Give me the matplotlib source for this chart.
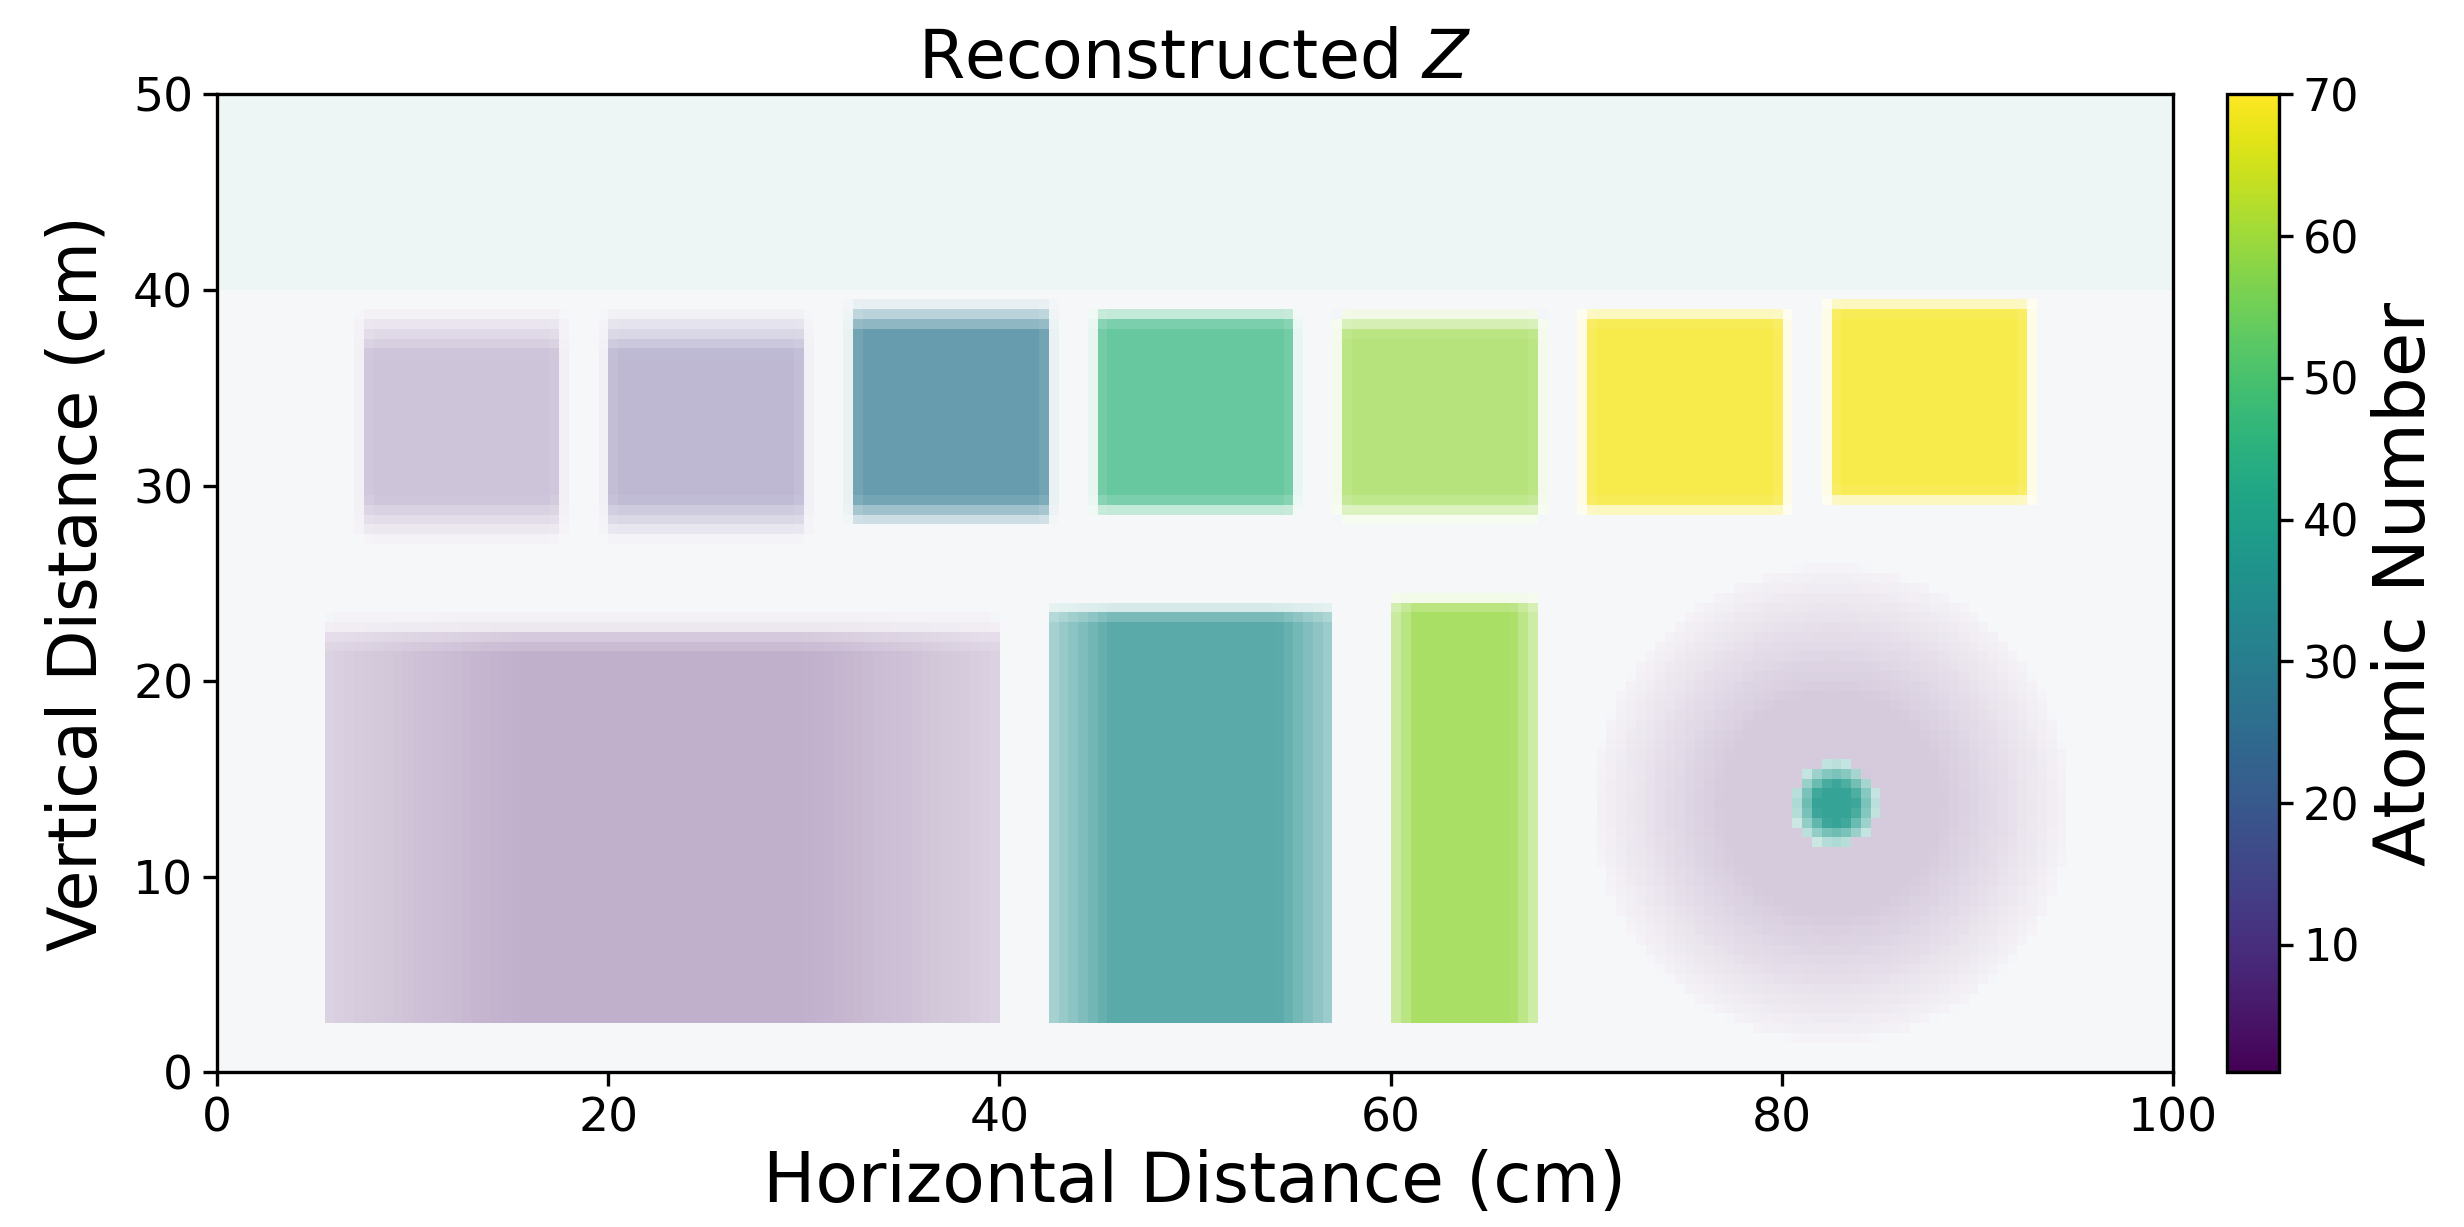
import numpy as np
import matplotlib
matplotlib.use('Agg')
import matplotlib.pyplot as plt
from matplotlib.colors import Normalize

# background / band
bg_z, bg_alpha = 22, 0.05
band_y0, band_y1, band_z, band_alpha = 40.0, 50.0, 35, 0.08

# top row of small squares
sq_x0 = [7.5, 20.0, 32.5, 45.0, 57.5, 70.0, 82.5]
sq_x1 = [17.5, 30.0, 42.5, 55.0, 67.5, 80.0, 92.5]
sq_y0 = [28.3, 28.3, 28.6, 28.9, 28.8, 28.9, 29.4]
sq_y1 = [37.8, 37.8, 38.6, 38.6, 38.3, 38.6, 39.1]
sq_z = [8, 12, 28, 46, 59, 69, 69]
sq_alpha = [0.27, 0.35, 0.72, 0.73, 0.68, 0.80, 0.80]
sq_blur_y = [2.2, 2.2, 1.6, 1.0, 1.2, 0.8, 0.8]

# bottom row rectangles
rect_x0 = [5.5, 42.7, 60.0]
rect_x1 = [40.0, 57.2, 67.4]
rect_y0 = [2.5, 2.5, 2.5]
rect_y1 = [22.4, 23.6, 24.0]
rect_z = [5, 35, 59]
rect_alpha = [0.34, 0.75, 0.80]
rect_blur_x = [20.0, 6.0, 2.5]
rect_blur_y = [2.0, 1.2, 0.8]

# cylinder with insert
circ_cx = [82.5, 82.7]
circ_cy = [13.7, 13.7]
circ_r = [9.0, 1.6]
circ_z = [5, 38]
circ_alpha = [0.22, 0.9]
circ_blur = [6.5, 1.2]

res = 0.5
xc = np.arange(0, 100, res) + res / 2
yc = np.arange(0, 50, res) + res / 2
X, Y = np.meshgrid(xc, yc)

Z = np.full(X.shape, float(bg_z))
A = np.full(X.shape, bg_alpha)


def ramp(d, w):
    return np.clip(d / w + 0.5, 0, 1)


def paint(m, z, a):
    global Z, A
    Z = np.where(m > 0.02, z, Z)
    A = A * (1 - m) + a * m


band = ramp(Y - band_y0, 0.5) * ramp(band_y1 - Y, 0.5)
paint(band, band_z, band_alpha)

for i in range(len(sq_x0)):
    m = ramp(X - sq_x0[i], 0.6) * ramp(sq_x1[i] - X, 0.6) * \
        ramp(Y - sq_y0[i], sq_blur_y[i]) * ramp(sq_y1[i] - Y, sq_blur_y[i])
    paint(m, sq_z[i], sq_alpha[i])

for i in range(len(rect_x0)):
    mx = ramp(X - rect_x0[i], rect_blur_x[i]) * ramp(rect_x1[i] - X, rect_blur_x[i])
    mx = np.where((X > rect_x0[i]) & (X < rect_x1[i]), mx, 0)
    my = ramp(rect_y1[i] - Y, rect_blur_y[i])
    my = np.where(Y < rect_y1[i], np.maximum(my, 0.6), my * 0.5)
    my = np.where(Y > rect_y0[i], my, 0)
    paint(mx * my, rect_z[i], rect_alpha[i])

for i in range(len(circ_cx)):
    d = np.hypot(X - circ_cx[i], Y - circ_cy[i])
    m = ramp(circ_r[i] - d, circ_blur[i])
    paint(m, circ_z[i], circ_alpha[i])

fig = plt.figure(figsize=(12.32, 6.135), dpi=200)
ax = fig.add_axes([0.088, 0.126, 0.794, 0.797])
cax = fig.add_axes([0.904, 0.126, 0.021, 0.797])

norm = Normalize(vmin=1, vmax=70)
ax.imshow(Z, cmap='viridis', norm=norm, alpha=A, origin='lower',
          extent=[0, 100, 0, 50], interpolation='nearest', aspect='auto')
ax.set_xlim(0, 100)
ax.set_ylim(0, 50)
ax.set_xticks([0, 20, 40, 60, 80, 100])
ax.set_yticks([0, 10, 20, 30, 40, 50])
ax.tick_params(labelsize=17, width=1.2, length=5)
for s in ax.spines.values():
    s.set_linewidth(1.2)
ax.set_xlabel('Horizontal Distance (cm)', fontsize=25, labelpad=3)
ax.set_ylabel('Vertical Distance (cm)', fontsize=24, labelpad=8)
ax.set_title('Reconstructed $Z$', fontsize=24, pad=6)

sm = plt.cm.ScalarMappable(norm=norm, cmap='viridis')
cb = fig.colorbar(sm, cax=cax)
cb.set_ticks([10, 20, 30, 40, 50, 60, 70])
cb.ax.tick_params(labelsize=16, width=1.2, length=5)
cb.outline.set_linewidth(1.2)
cb.set_label('Atomic Number', fontsize=26, labelpad=4)

plt.savefig('out.png', dpi=200)
